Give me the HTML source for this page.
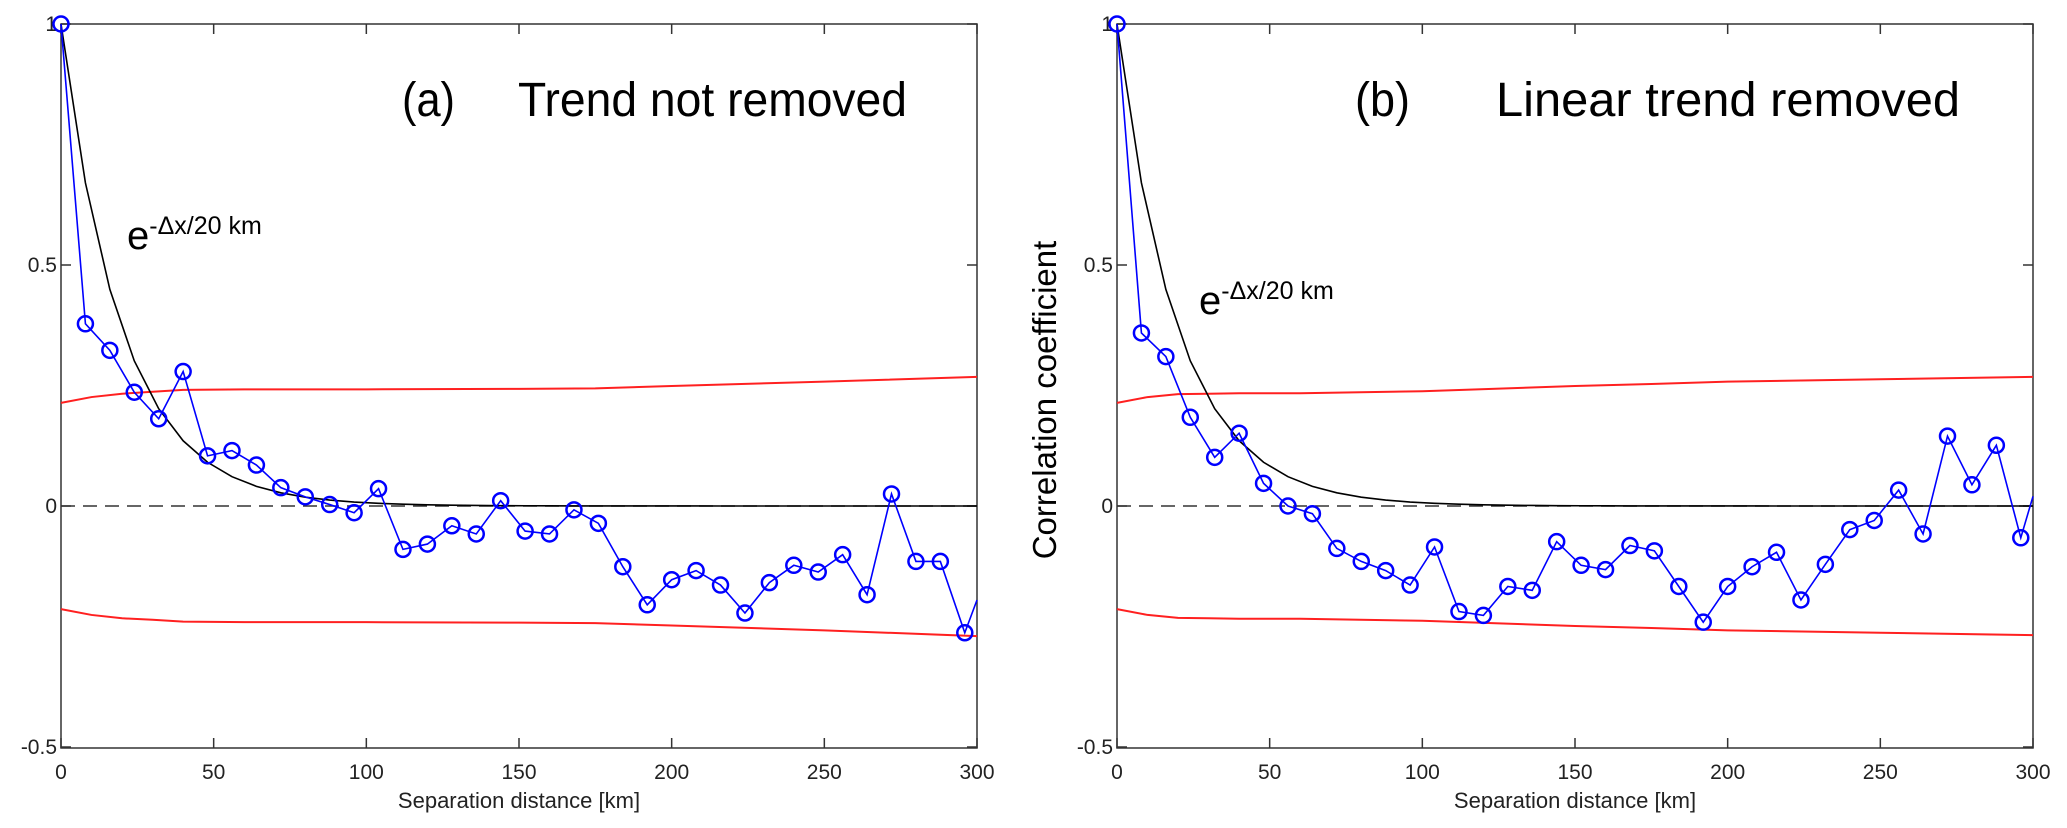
<!DOCTYPE html>
<html><head><meta charset="utf-8"><style>
html,body{margin:0;padding:0;background:#fff;}
svg{display:block;font-family:"Liberation Sans",sans-serif;}
</style></head><body>
<svg id="chart" width="2067" height="828" viewBox="0 0 2067 828"></svg>
<script>
const xKm = [0,8,16,24,32,40,48,56,64,72,80,88,96,104,112,120,128,136,144,152,160,168,176,184,192,200,208,216,224,232,240,248,256,264,272,280,288,296];
const corrA = [1,0.378,0.323,0.236,0.181,0.279,0.104,0.115,0.085,0.038,0.019,0.003,-0.014,0.036,-0.09,-0.079,-0.041,-0.058,0.011,-0.052,-0.058,-0.008,-0.036,-0.126,-0.205,-0.153,-0.134,-0.164,-0.222,-0.159,-0.123,-0.137,-0.101,-0.184,0.025,-0.115,-0.115,-0.263];
const corrAEnd = -0.195;
const corrB = [1,0.359,0.310,0.184,0.101,0.151,0.047,0.0,-0.016,-0.088,-0.115,-0.134,-0.164,-0.085,-0.219,-0.227,-0.167,-0.175,-0.074,-0.123,-0.132,-0.082,-0.093,-0.167,-0.241,-0.167,-0.126,-0.096,-0.195,-0.121,-0.049,-0.030,0.033,-0.058,0.145,0.044,0.126,-0.066];
const corrBEnd = 0.02;
const boundX = [0,10,20,30,40,60,100,150,175,200,250,300];
const upperA = [0.214,0.226,0.233,0.237,0.241,0.242,0.242,0.243,0.244,0.249,0.258,0.268];
const lowerA = [-0.214,-0.226,-0.233,-0.236,-0.240,-0.241,-0.241,-0.242,-0.243,-0.248,-0.258,-0.270];
const upperB = [0.214,0.226,0.232,0.233,0.234,0.234,0.238,0.249,0.253,0.258,0.263,0.268];
const lowerB = [-0.214,-0.226,-0.232,-0.233,-0.234,-0.234,-0.238,-0.249,-0.253,-0.258,-0.263,-0.268];
const xTicks = [0,50,100,150,200,250,300];
const yTicks = [1,0.5,0,-0.5];
const yTickLabels = ["1","0.5","0","-0.5"];

const NS = "http://www.w3.org/2000/svg";
const svg = document.getElementById('chart');
function mk(tag, attrs, parent){
  const e = document.createElementNS(NS, tag);
  for (const k in attrs) e.setAttribute(k, attrs[k]);
  (parent||svg).appendChild(e);
  return e;
}
function panel(x0, key, title, corr, corrEnd, up, lo, annX, annY, ylabel){
  const X0 = x0, X1 = x0 + 916, Ytop = 24, Ybot = 748;
  const sx = v => X0 + v / 300 * (X1 - X0);
  const sy = v => 506 - v * 482;
  const g = mk('g', {});
  
  
  const frame = mk('rect', {x:X0, y:Ytop, width:X1-X0, height:Ybot-Ytop, fill:'none', stroke:'#333', 'stroke-width':1.5}, g);
  
  
  xTicks.forEach(t => {
    const x = sx(t);
    mk('line', {x1:x, y1:Ybot, x2:x, y2:Ybot-10, stroke:'#333', 'stroke-width':1.5}, g);
    mk('line', {x1:x, y1:Ytop, x2:x, y2:Ytop+10, stroke:'#333', 'stroke-width':1.5}, g);
    const tl = mk('text', {x:x, y:779, 'font-size':21, 'text-anchor':'middle', fill:'#222'}, g);
    tl.textContent = t;
    
    
  });
  yTicks.forEach((t,i) => {
    const y = sy(t);
    mk('line', {x1:X0, y1:y, x2:X0+10, y2:y, stroke:'#333', 'stroke-width':1.5}, g);
    mk('line', {x1:X1, y1:y, x2:X1-10, y2:y, stroke:'#333', 'stroke-width':1.5}, g);
    const tl = mk('text', {x:X0-4, y:y+7, 'font-size':21, 'text-anchor':'end', fill:'#222'}, g);
    tl.textContent = yTickLabels[i];
    
    
  });
  const xt = mk('text', {x:(X0+X1)/2, y:808, 'font-size':22, 'text-anchor':'middle', fill:'#222'}, g);
  xt.textContent = 'Separation distance  [km]';
  
  
  const z = mk('line', {x1:X0, y1:sy(0), x2:X1, y2:sy(0), stroke:'#333', 'stroke-width':1.5, 'stroke-dasharray':'14,8'}, g);
  
  
  [up, lo].forEach((arr, j) => {
    const p = mk('polyline', {points: boundX.map((v,i)=>sx(v)+','+sy(arr[i])).join(' '), fill:'none', stroke:'#ff2020', 'stroke-width':2}, g);
    
    
  });
  const ex = [];
  for (let v = 0; v <= 300; v += 8) ex.push(sx(v)+','+sy(Math.exp(-v/20)));
  ex.push(sx(300)+','+sy(Math.exp(-300/20)));
  const el = mk('polyline', {points: ex.join(' '), fill:'none', stroke:'#000', 'stroke-width':1.6}, g);
  
  
  const pts = xKm.map((v,i)=>sx(v)+','+sy(corr[i]));
  pts.push(sx(300)+','+sy(corrEnd));
  const bl = mk('polyline', {points: pts.join(' '), fill:'none', stroke:'#0000ff', 'stroke-width':1.6}, g);
  
  
  xKm.forEach((v,i) => {
    const c = mk('circle', {cx:sx(v), cy:sy(corr[i]), r:7.5, fill:'none', stroke:'#0000ff', 'stroke-width':2.5}, g);
    
    
  });
  const t1 = mk('text', {x:title[1], y:116, 'font-size':48, fill:'#000', textLength:title[2], lengthAdjust:'spacingAndGlyphs'}, g);
  t1.textContent = title[0];
  
  
  const t2 = mk('text', {x:title[4], y:116, 'font-size':48, fill:'#000', textLength:title[5], lengthAdjust:'spacingAndGlyphs'}, g);
  t2.textContent = title[3];
  
  
  const an = mk('text', {x:annX, y:annY, 'font-size':40, fill:'#000'}, g);
  an.innerHTML = 'e<tspan dy="-15" font-size="25">-Δx/20 km</tspan>';
  
  
  if (ylabel) {
    const yl = mk('text', {x:0, y:0, 'font-size':33, 'text-anchor':'middle', fill:'#000', transform:'translate(1056,400) rotate(-90)'}, g);
    yl.textContent = ylabel;
    
    
  }
}
panel(61, 'a', ['(a)', 402, 53, 'Trend not removed', 518, 389], corrA, corrAEnd, upperA, lowerA, 127, 249, null);
panel(1117, 'b', ['(b)', 1355, 55, 'Linear trend removed', 1496, 464], corrB, corrBEnd, upperB, lowerB, 1199, 314, 'Correlation coefficient');
</script>
</body></html>
